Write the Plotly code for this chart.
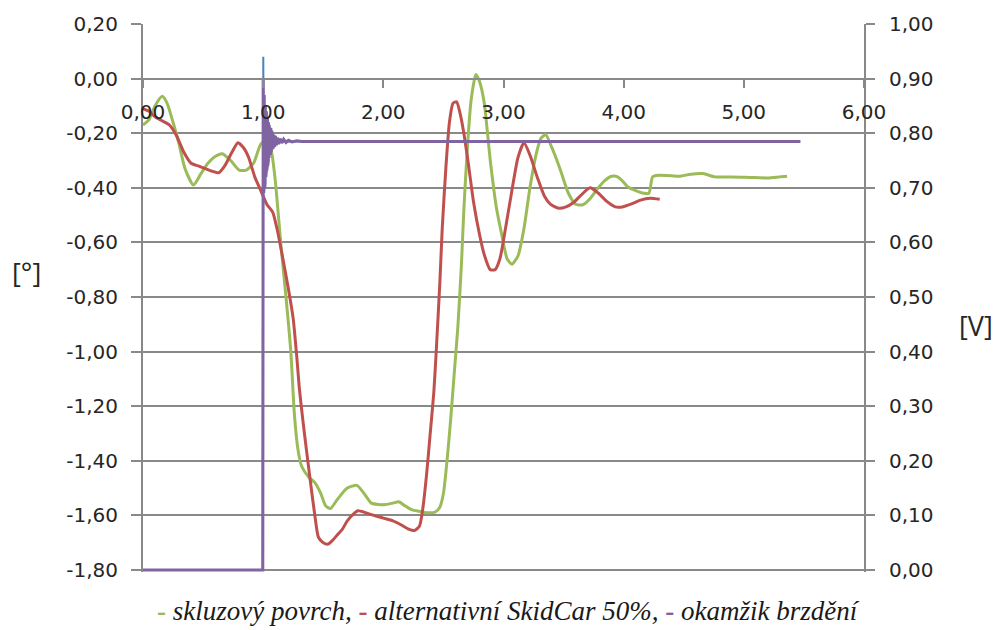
import plotly.graph_objects as go

# ---- data ----
green_x = [0.00, 0.05, 0.10, 0.16, 0.20, 0.25, 0.30, 0.35, 0.42, 0.48, 0.54, 0.60, 0.66, 0.73, 0.80,
           0.86, 0.92, 0.98, 1.03, 1.07, 1.10, 1.15, 1.19, 1.23, 1.26, 1.29, 1.32, 1.38, 1.43, 1.48,
           1.52, 1.56, 1.62, 1.70, 1.78, 1.84, 1.90, 1.96, 2.02, 2.08, 2.13, 2.18, 2.24, 2.30, 2.36,
           2.43, 2.47, 2.50, 2.53, 2.56, 2.59, 2.62, 2.65, 2.67, 2.70, 2.73, 2.77, 2.80, 2.84, 2.89,
           2.94, 2.98, 3.03, 3.07, 3.12, 3.17, 3.22, 3.27, 3.31, 3.35, 3.40, 3.47, 3.54, 3.60, 3.66,
           3.72, 3.78, 3.84, 3.90, 3.95, 3.99, 4.03, 4.10, 4.17, 4.21, 4.24, 4.27, 4.36, 4.46, 4.56,
           4.66, 4.76, 4.90, 5.05, 5.20, 5.30, 5.36]
green_y = [-0.17, -0.15, -0.10, -0.065, -0.09, -0.16, -0.24, -0.33, -0.39, -0.35, -0.31, -0.285, -0.275, -0.30, -0.335,
           -0.335, -0.31, -0.24, -0.225, -0.27, -0.37, -0.62, -0.80, -1.00, -1.23, -1.36, -1.42, -1.46, -1.48, -1.52,
           -1.565, -1.575, -1.54, -1.50, -1.49, -1.52, -1.555, -1.56, -1.56, -1.555, -1.55, -1.565, -1.58, -1.585, -1.59,
           -1.588, -1.57, -1.52, -1.40, -1.25, -1.08, -0.91, -0.68, -0.48, -0.25, -0.08, 0.015, -0.01, -0.09, -0.30,
           -0.47, -0.56, -0.66, -0.68, -0.65, -0.55, -0.40, -0.28, -0.22, -0.205, -0.25, -0.33, -0.42, -0.46, -0.462,
           -0.44, -0.405, -0.375, -0.358, -0.36, -0.375, -0.395, -0.41, -0.42, -0.42, -0.36, -0.355, -0.355, -0.358, -0.35,
           -0.348, -0.36, -0.36, -0.362, -0.364, -0.36, -0.358]

red_x = [0.00, 0.05, 0.10, 0.16, 0.22, 0.28, 0.34, 0.40, 0.46, 0.52, 0.58, 0.63, 0.68, 0.74, 0.79,
         0.84, 0.88, 0.93, 0.98, 1.03, 1.08, 1.12, 1.16, 1.21, 1.25, 1.28, 1.30, 1.33, 1.36, 1.40,
         1.43, 1.46, 1.50, 1.54, 1.58, 1.62, 1.66, 1.70, 1.75, 1.79, 1.85, 1.92, 2.00, 2.08, 2.15,
         2.21, 2.26, 2.30, 2.33, 2.36, 2.39, 2.42, 2.44, 2.47, 2.49, 2.52, 2.55, 2.58, 2.61, 2.64,
         2.67, 2.71, 2.75, 2.80, 2.84, 2.89, 2.93, 2.97, 3.02, 3.07, 3.12, 3.17, 3.22, 3.28, 3.34,
         3.39, 3.46, 3.52, 3.58, 3.65, 3.72, 3.79, 3.86, 3.93, 3.99, 4.06, 4.14, 4.22, 4.30]
red_y = [-0.11, -0.12, -0.14, -0.155, -0.17, -0.21, -0.27, -0.31, -0.32, -0.33, -0.34, -0.345, -0.32, -0.27, -0.235,
         -0.255, -0.29, -0.36, -0.41, -0.46, -0.49, -0.56, -0.65, -0.77, -0.88, -1.02, -1.13, -1.25, -1.36, -1.50,
         -1.60, -1.68, -1.70, -1.705, -1.69, -1.67, -1.65, -1.62, -1.595, -1.583, -1.59, -1.60, -1.61, -1.62, -1.635,
         -1.65, -1.655, -1.64, -1.57, -1.45, -1.30, -1.15, -1.00, -0.75, -0.55, -0.33, -0.16, -0.09, -0.085, -0.13,
         -0.20, -0.32, -0.45, -0.57, -0.645, -0.70, -0.70, -0.66, -0.54, -0.41, -0.29, -0.235, -0.28, -0.36, -0.43,
         -0.46, -0.475, -0.47, -0.455, -0.425, -0.40, -0.42, -0.45, -0.47, -0.47, -0.46, -0.445, -0.438, -0.442]

purple_x = [0.00, 0.997, 1.000, 1.0015, 1.003, 1.0045, 1.006, 1.0075, 1.009, 1.0105, 1.012, 1.0135,
            1.015, 1.0165, 1.018, 1.0195, 1.021, 1.0225, 1.024, 1.0255, 1.027, 1.0285, 1.030, 1.0315,
            1.033, 1.0345, 1.036, 1.0375, 1.039, 1.0405, 1.042, 1.0435, 1.045, 1.0465, 1.048, 1.0495,
            1.051, 1.054, 1.057, 1.060, 1.064, 1.068, 1.072, 1.076, 1.080, 1.085, 1.090, 1.096, 1.102,
            1.110, 1.118, 1.128, 1.140, 1.155, 1.170, 1.190, 1.210, 1.240, 1.280, 1.320, 5.47]
purple_y = [0.00, 0.00, 0.90, 0.70, 0.89, 0.69, 0.88, 0.70, 0.87, 0.71, 0.86, 0.70, 0.86, 0.71,
            0.85, 0.72, 0.85, 0.72, 0.84, 0.73, 0.84, 0.73, 0.84, 0.74, 0.83, 0.74, 0.83, 0.74,
            0.82, 0.75, 0.82, 0.75, 0.82, 0.755, 0.815, 0.755, 0.815, 0.76, 0.81, 0.76, 0.81, 0.765,
            0.805, 0.77, 0.80, 0.772, 0.797, 0.775, 0.795, 0.778, 0.792, 0.780, 0.790, 0.782, 0.789,
            0.783, 0.787, 0.784, 0.786, 0.785, 0.785]

blue_x = [0.00, 0.996, 1.001, 1.005, 1.010, 1.020, 1.030, 5.47]
blue_y = [0.00, 0.00, 0.94, 0.70, 0.82, 0.76, 0.785, 0.785]

left_ticks = [0.2, 0.0, -0.2, -0.4, -0.6, -0.8, -1.0, -1.2, -1.4, -1.6, -1.8]
left_labels = ["0,20", "0,00", "-0,20", "-0,40", "-0,60", "-0,80", "-1,00", "-1,20", "-1,40", "-1,60", "-1,80"]
right_ticks = [1.0, 0.9, 0.8, 0.7, 0.6, 0.5, 0.4, 0.3, 0.2, 0.1, 0.0]
right_labels = ["1,00", "0,90", "0,80", "0,70", "0,60", "0,50", "0,40", "0,30", "0,20", "0,10", "0,00"]
x_ticks = [0, 1, 2, 3, 4, 5, 6]
x_labels = ["0,00", "1,00", "2,00", "3,00", "4,00", "5,00", "6,00"]

GREEN = "#9BBB59"
RED = "#C0504D"
PURPLE = "#8064A2"
BLUE = "#4F81BD"
GRID = "#898989"
TEXT = "#262626"
TICKFONT = dict(family="DejaVu Sans", size=20, color=TEXT)
SERIF = "Liberation Serif, Times New Roman, DejaVu Serif, serif"

# plot area: 0.20 at y=24 px, -1.80 at y=570 px; extend 2 px below so the
# bottom line of the purple series is not clipped by the plot edge
PX_PER_UNIT = 546 / 2.0
EXTRA = 2
y_lo = -1.8 - EXTRA / PX_PER_UNIT
y2_lo = 0.0 - EXTRA / (546 / 1.0)
x_pos = (0 - y_lo) / (0.2 - y_lo)
plot_h = 546 + EXTRA

fig = go.Figure()
fig.add_trace(go.Scatter(x=green_x, y=green_y, mode="lines", line=dict(color=GREEN, width=3, shape="spline", smoothing=0.6),
                         name="skluzový povrch"))
fig.add_trace(go.Scatter(x=red_x, y=red_y, mode="lines", line=dict(color=RED, width=3, shape="spline", smoothing=0.6),
                         name="alternativní SkidCar 50%"))
fig.add_trace(go.Scatter(x=blue_x, y=blue_y, mode="lines", line=dict(color=BLUE, width=2),
                         yaxis="y2", name="signál"))
fig.add_trace(go.Scatter(x=purple_x, y=purple_y, mode="lines", line=dict(color=PURPLE, width=3),
                         yaxis="y2", name="okamžik brzdění"))

def py(pix):
    return (570 + EXTRA - pix) / plot_h

fig.update_layout(
    width=998, height=630,
    margin=dict(l=143, r=134, t=24, b=60 - EXTRA),
    paper_bgcolor="white", plot_bgcolor="white",
    showlegend=False,
    xaxis=dict(range=[0, 6], tickvals=x_ticks, ticktext=x_labels, showgrid=False, zeroline=False,
               anchor="free", position=x_pos, side="bottom",
               showline=True, linecolor=GRID, linewidth=2, ticks="outside", ticklen=8, tickcolor=GRID,
               tickwidth=2, ticklabelstandoff=7, tickfont=TICKFONT),
    yaxis=dict(range=[y_lo, 0.2], tickvals=left_ticks, ticktext=left_labels, showgrid=True,
               gridcolor=GRID, gridwidth=2, zeroline=False, showline=True, linecolor=GRID, linewidth=2,
               ticks="outside", ticklen=10, tickcolor=GRID, tickwidth=2, ticklabelstandoff=9, tickfont=TICKFONT),
    yaxis2=dict(range=[y2_lo, 1], tickvals=right_ticks, ticktext=right_labels, overlaying="y", side="right",
                showgrid=False, zeroline=False, showline=True, linecolor=GRID, linewidth=2,
                ticks="outside", ticklen=9, tickcolor=GRID, tickwidth=2, ticklabelstandoff=10, tickfont=TICKFONT),
    annotations=[
        dict(text="[°]", xref="paper", yref="paper", x=(27 - 143) / 721, y=py(272),
             showarrow=False, font=dict(family="Open Sans", size=27, color=TEXT),
             xanchor="center", yanchor="middle"),
        dict(text="[V]", xref="paper", yref="paper", x=(976 - 143) / 721, y=py(325),
             showarrow=False, font=dict(family="Open Sans", size=27, color=TEXT),
             xanchor="center", yanchor="middle"),
        dict(text=("<span style='color:%s'><b>-</b></span> <i>skluzový povrch,</i> "
                   "<span style='color:%s'><b>-</b></span> <i>alternativní SkidCar 50%%,</i> "
                   "<span style='color:%s'><b>-</b></span> <i>okamžik brzdění</i>") % (GREEN, RED, PURPLE),
             xref="paper", yref="paper", x=(508 - 143) / 721, y=py(611),
             showarrow=False, font=dict(family=SERIF, size=27, color="#1a1a1a"),
             xanchor="center", yanchor="middle"),
    ],
)

fig.write_html("out.html", config={"displayModeBar": False},
               post_script="document.body.style.margin='0px';")
